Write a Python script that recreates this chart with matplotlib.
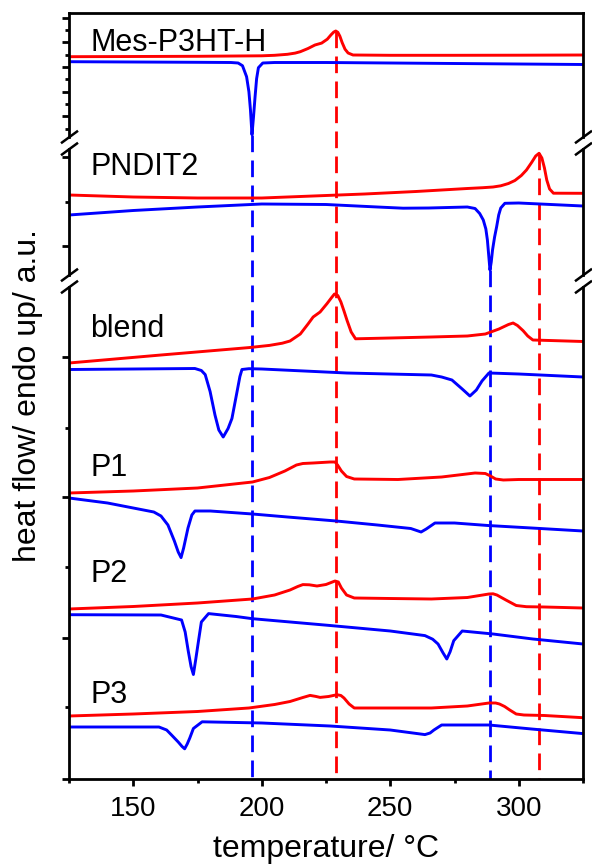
import matplotlib
matplotlib.use("Agg")
import matplotlib.pyplot as plt
import numpy as np
from matplotlib.transforms import blended_transform_factory

plt.rcParams['font.family'] = ['Liberation Sans', 'DejaVu Sans']

# ---------------- data ----------------
samples = ["Mes-P3HT-H", "PNDIT2", "blend", "P1", "P2", "P3"]

# heating traces (red): temperature in °C, heat flow (a.u., endo up, relative to start)
mes_heat_T = [125, 150, 175, 200, 205, 210, 213, 215, 218, 220.7, 223.3, 225.5, 227, 228, 228.8, 229.6, 230.4, 231.3, 232.4, 233.6, 235.5, 250, 275, 300, 325]
mes_heat_hf = [0, 0.2, 0.4, 0.9, 1.4, 2.4, 3.6, 5.0, 8.2, 11.7, 13.6, 17.5, 22.0, 24.6, 25.7, 24.4, 20.5, 14.0, 7.5, 3.7, 1.7, 1.4, 1.4, 1.5, 1.7]

pnd_heat_T = [125, 150, 175, 200, 215, 240, 260, 280, 286, 290, 293, 296, 298.5, 301, 303, 305, 306.6, 307.9, 309, 310, 310.9, 312, 313.5, 325]
pnd_heat_hf = [0, -2, -3, -3, -1.5, 1, 3.5, 6.5, 7.3, 8.0, 9.2, 11.5, 14.5, 19.5, 25, 32.5, 39, 41.7, 37, 27, 15, 6, 1.8, 1.7]

bld_heat_T = [125, 160.8, 195, 203, 208, 211, 215, 218, 220, 222.7, 225.4, 227.2, 228.3, 229.6, 230.8, 232, 233.2, 234.8, 236.5, 250, 266, 280, 287, 292.3, 296, 297.8, 299.5, 301.7, 303.5, 305.5, 325]
bld_heat_hf = [0, 8, 15.4, 17.6, 19.8, 22, 29, 39, 46, 51, 59.4, 65.5, 69, 67.5, 61, 52, 42.5, 31, 24.2, 25, 26, 27, 29, 34, 38.5, 40, 37.5, 32.3, 27, 23, 21.5]

p1_heat_T = [125, 150, 175, 196.4, 203, 209, 213.5, 216, 220, 226.6, 228.5, 229.5, 231, 233, 236, 253, 270, 283, 287, 289, 291, 294, 300, 325]
p1_heat_hf = [0, 2, 5, 11, 15.5, 22, 28, 29.5, 30, 31, 31, 28, 22, 16.5, 14, 13.5, 16, 20, 19.5, 17, 14, 13, 13.5, 13.5]

p2_heat_T = [125, 150, 175, 196.4, 205, 211, 214, 216, 218.5, 221.5, 225, 228.5, 229.8, 231, 233, 236, 250, 266, 280, 288.4, 290, 291.5, 295, 299, 303, 310, 325]
p2_heat_hf = [0, 2.5, 6, 10, 14, 19, 22.5, 24.4, 24.2, 23, 24.5, 28, 27, 21, 14, 11, 10.5, 10, 11.5, 15, 15.2, 14, 9, 3.5, 2.3, 2, 1]

p3_heat_T = [125, 150, 175, 195, 205, 211, 216, 218.8, 221, 222.7, 226, 229.3, 230.8, 232, 234, 236, 266, 280, 288.4, 291, 292.5, 294.5, 296.5, 299, 302, 310, 325]
p3_heat_hf = [0, 2, 4.5, 8, 11.5, 14.5, 18.5, 20.6, 19.6, 18.6, 19.5, 21.3, 20.5, 18, 12, 8, 8, 10, 13, 13, 12, 9.5, 6, 2, 1, 0.5, -1.7]

# cooling traces (blue)
mes_cool_T = [125, 150, 175, 188, 190.8, 192.5, 194.1, 195, 195.6, 196.2, 196.8, 197.4, 198, 198.7, 200.4, 205, 225, 250, 275, 300, 325]
mes_cool_hf = [0, -0.3, -0.6, -0.8, -1.3, -4, -15, -30, -48, -73, -55, -35, -17, -6, -1.3, -0.8, -0.8, -1.3, -1.8, -2.3, -2.8]

pnd_cool_T = [125, 150, 175, 200, 225, 245, 255, 265, 280, 283, 284.8, 286.2, 287.2, 287.8, 288.3, 288.8, 289.3, 289.8, 290.6, 291.4, 292.2, 293, 294.6, 300, 325]
pnd_cool_hf = [0, 4.5, 8, 11, 10.5, 8, 6.8, 7, 8, 6.5, 1.5, -5, -14, -25, -40, -55, -47, -35, -22, -11.7, 0, 7, 11.7, 12, 9]

bld_cool_T = [125, 150, 174, 176.5, 178, 179.9, 181.8, 183.3, 185, 186.9, 188.4, 190.4, 191.5, 192.3, 195, 200, 233, 266, 270, 274, 278, 281, 283.5, 285.7, 288.4, 292, 300, 325]
bld_cool_hf = [0, 0.5, 1, -1, -5.1, -22, -45.5, -60.5, -67.5, -59, -49, -22, -7, 0, 0.8, 0.5, -3.5, -5.5, -7.5, -10.5, -19.5, -26.5, -20.5, -11.5, -3.5, -3.8, -4.5, -7.5]

p1_cool_T = [125, 140, 152, 158, 160.8, 163.5, 166, 167.5, 168.6, 169.6, 171.3, 172.8, 174, 180, 196.4, 210, 229, 245, 258, 262, 264, 267.4, 275, 288, 305, 325]
p1_cool_hf = [0, -5, -11, -14, -18, -27, -43, -54, -59.6, -50, -30, -17, -13, -13, -16, -19, -23, -27, -30.5, -34, -31, -25, -25, -27.5, -30, -33]

p2_cool_T = [125, 160.8, 168.8, 170.2, 171.4, 172.5, 173.4, 174.3, 175.4, 176.5, 179.3, 190, 196.4, 226.6, 250, 263.5, 266.5, 268.6, 270.5, 272, 273.3, 274.7, 278, 290, 305.5, 325]
p2_cool_hf = [0, -0.3, -5.3, -17.3, -36.3, -52, -59.8, -45, -26, -7.3, 1.1, -1.8, -4, -10.8, -16.3, -20.9, -24.5, -29.3, -38, -44.3, -37, -26, -16.3, -19.3, -24.3, -29.3]

p3_cool_T = [125, 160, 163, 164.9, 167.5, 169, 170, 171, 172, 173.4, 176.8, 200, 226.6, 250, 263.5, 265.5, 267, 270, 288.4, 305, 325]
p3_cool_hf = [0, 0, -3, -8, -15, -19.5, -21.8, -17, -11, -1.5, 5.2, 4, 1, -3, -7.6, -6, -3, 2, 2, -2, -6.6]

# tick labels
x_ticks = [150, 200, 250, 300]
x_minor = [125, 175, 225, 275, 325]

# ---------------- layout ----------------
heat_offsets = [722.3, 584, 416, 286, 170, 63]
cool_offsets = [717.3, 564, 409.5, 281, 164.3, 52]
label_y = [728, 604, 442, 303.5, 197, 76]
label_size = [22, 22, 22, 22, 22, 22]
y_major = [761.3, 736.7, 712, 687.4, 662.7, 622, 533, 422, 282, 141, 0]
y_minor = [749, 724.4, 699.7, 675, 650.4, 577, 351, 212, 72]
breaks = [636, 498]

heat = [(mes_heat_T, mes_heat_hf), (pnd_heat_T, pnd_heat_hf), (bld_heat_T, bld_heat_hf),
        (p1_heat_T, p1_heat_hf), (p2_heat_T, p2_heat_hf), (p3_heat_T, p3_heat_hf)]
cool = [(mes_cool_T, mes_cool_hf), (pnd_cool_T, pnd_cool_hf), (bld_cool_T, bld_cool_hf),
        (p1_cool_T, p1_cool_hf), (p2_cool_T, p2_cool_hf), (p3_cool_T, p3_cool_hf)]

RED = '#ff0000'
BLUE = '#0000ff'

fig = plt.figure(figsize=(5.92, 8.66), dpi=100)
ax = fig.add_axes([69/592, 87/866, 514/592, 766/866])
ax.set_xlim(125, 325)
ax.set_ylim(0, 766)

for (T, hf), off in zip(heat, heat_offsets):
    ax.plot(T, np.array(hf) + off, color=RED, lw=2.1, zorder=3,
            solid_joinstyle='round', solid_capstyle='butt')
for (T, hf), off in zip(cool, cool_offsets):
    ax.plot(T, np.array(hf) + off, color=BLUE, lw=2.1, zorder=3,
            solid_joinstyle='round', solid_capstyle='butt')

# dashed guide lines from the pure-component transitions
def extreme(T, hf, off, mode):
    hf = np.array(hf)
    i = int(np.argmax(hf)) if mode == 'max' else int(np.argmin(hf))
    return T[i], hf[i] + off

guides = [
    (extreme(mes_cool_T, mes_cool_hf, cool_offsets[0], 'min'), BLUE),
    (extreme(mes_heat_T, mes_heat_hf, heat_offsets[0], 'max'), RED),
    (extreme(pnd_cool_T, pnd_cool_hf, cool_offsets[1], 'min'), BLUE),
    (extreme(pnd_heat_T, pnd_heat_hf, heat_offsets[1], 'max'), RED),
]
for (tx, ty), c in guides:
    ax.plot([tx, tx], [ty, 0], color=c, lw=2.0, ls=(0, (6, 3)), zorder=2)

tr = blended_transform_factory(ax.transAxes, ax.transData)
for name, ly, fs in zip(samples, label_y, label_size):
    ax.text(0.041, ly, name, transform=tr, fontsize=fs, va='baseline', ha='left')

# axes styling
for s in ['left', 'right']:
    ax.spines[s].set_visible(False)
for s in ['top', 'bottom']:
    ax.spines[s].set_linewidth(2.0)

ax.set_xticks(x_ticks)
ax.set_xticks(x_minor, minor=True)
ax.set_yticks(y_major)
ax.set_yticks(y_minor, minor=True)
ax.set_yticklabels([])
ax.tick_params(axis='both', which='major', direction='out', length=5, width=2, labelsize=20, pad=7)
ax.tick_params(axis='both', which='minor', direction='out', length=3, width=2)
ax.tick_params(axis='y', which='both', left=True, right=False)

# broken side spines
gap = 6
segs = [(766, breaks[0] + gap), (breaks[0] - gap, breaks[1] + gap), (breaks[1] - gap, 0)]
for xs in [0, 1]:
    for y0, y1 in segs:
        ax.plot([xs, xs], [y0, y1], color='black', lw=2.0, transform=tr, clip_on=False,
                solid_capstyle='projecting', zorder=5)
    for b in breaks:
        for d in [gap, -gap]:
            ax.plot([xs - 7/514, xs + 8/514], [b + d - 5.5, b + d + 5.5], color='black', lw=1.8,
                    transform=tr, clip_on=False, zorder=5)

ax.set_xlabel('temperature/ °C', fontsize=23, labelpad=9)
ax.set_ylabel('heat flow/ endo up/ a.u.', fontsize=23)
ax.yaxis.set_label_coords(-0.051, 0.5)

fig.savefig('out.png', dpi=100)
